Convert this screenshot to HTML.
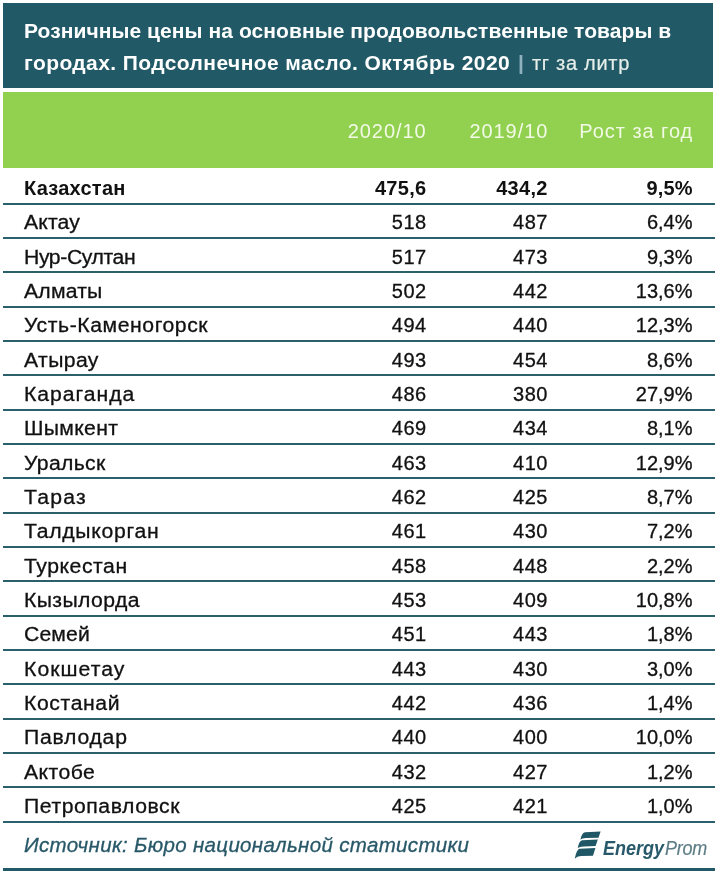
<!DOCTYPE html>
<html lang="ru"><head><meta charset="utf-8"><title>Розничные цены</title>
<style>
html,body{margin:0;padding:0;background:#fff}
body{width:715px;height:871px;position:relative;overflow:hidden;font-family:"Liberation Sans",sans-serif;color:#111}
.abs{position:absolute}
.hdr{left:3px;top:3px;width:710px;height:85px;background:#215967}
.ttl{left:24px;white-space:nowrap;color:#fff;font-weight:bold;font-size:21px;line-height:24px}
.ttl.u{font-weight:normal;font-size:20px;color:#e6eeea;-webkit-text-stroke:0.2px #e6eeea}
.ttl.bar{font-weight:bold;font-size:21px;color:#8fb0bd}
.band{left:3px;top:92px;width:710px;height:76px;background:#92d050}
.ch{color:#f2fae6;font-size:20px;line-height:24px;white-space:nowrap;text-align:right}
.ln{left:3px;width:712px;height:2px;background:#2a5f6c}
.t{font-size:20px;line-height:24px;white-space:nowrap}
.n{text-align:right}
.nm{transform-origin:0 0}
.t{-webkit-text-stroke:0.3px #111}
.t.b{-webkit-text-stroke:0}
.b{font-weight:bold}
.src{left:24px;font-style:italic;color:#285868;-webkit-text-stroke:0.3px #285868;font-size:20.5px;line-height:24px;white-space:nowrap}
.lg{white-space:nowrap;font-style:italic;line-height:22px}
</style></head><body>
<div class="abs hdr"></div>
<div class="abs ttl" style="top:19px;letter-spacing:0.07px">Розничные цены на основные продовольственные товары в</div>
<div class="abs ttl" style="top:51.25px;letter-spacing:0.42px">городах. Подсолнечное масло. Октябрь 2020</div>
<div class="abs ttl bar" style="top:50.5px;left:518px">|</div>
<div class="abs ttl u" style="top:51.4px;left:532px;letter-spacing:0.7px">тг за литр</div>
<div class="abs band"></div>
<div class="abs ch" style="top:118.5px;right:289.30px;letter-spacing:0.95px;margin-right:-0.95px">2020/10</div>
<div class="abs ch" style="top:118.5px;right:167.60px;letter-spacing:0.95px;margin-right:-0.95px">2019/10</div>
<div class="abs ch" style="top:118.5px;right:22.80px;letter-spacing:0.95px;margin-right:-0.95px">Рост за год</div>
<div class="abs t b nm" style="left:24px;top:175.75px;letter-spacing:0.25px;transform:scaleX(1)">Казахстан</div><div class="abs t b n" style="right:288.50px;top:175.75px;letter-spacing:0.3px">475,6</div><div class="abs t b n" style="right:167.30px;top:175.75px;letter-spacing:0.3px">434,2</div><div class="abs t b n" style="right:22.40px;top:175.75px;letter-spacing:0.1px">9,5%</div><div class="abs ln" style="top:203px"></div>
<div class="abs t nm" style="left:24px;top:210.0px;letter-spacing:0.15px;transform:scaleX(1.06)">Актау</div><div class="abs t n" style="right:288.30px;top:210.0px;letter-spacing:0.5px">518</div><div class="abs t n" style="right:167.10px;top:210.0px;letter-spacing:0.5px">487</div><div class="abs t n" style="right:22.50px;top:210.0px;letter-spacing:0px">6,4%</div><div class="abs ln" style="top:237px"></div>
<div class="abs t nm" style="left:24px;top:244.5px;letter-spacing:-0.38px;transform:scaleX(1.06)">Нур-Султан</div><div class="abs t n" style="right:288.30px;top:244.5px;letter-spacing:0.5px">517</div><div class="abs t n" style="right:167.10px;top:244.5px;letter-spacing:0.5px">473</div><div class="abs t n" style="right:22.50px;top:244.5px;letter-spacing:0px">9,3%</div><div class="abs ln" style="top:271px"></div>
<div class="abs t nm" style="left:24px;top:278.75px;letter-spacing:0.18px;transform:scaleX(1.06)">Алматы</div><div class="abs t n" style="right:288.30px;top:278.75px;letter-spacing:0.5px">502</div><div class="abs t n" style="right:167.10px;top:278.75px;letter-spacing:0.5px">442</div><div class="abs t n" style="right:22.50px;top:278.75px;letter-spacing:0px">13,6%</div><div class="abs ln" style="top:306px"></div>
<div class="abs t nm" style="left:24px;top:313.0px;letter-spacing:0.53px;transform:scaleX(1.06)">Усть-Каменогорск</div><div class="abs t n" style="right:288.30px;top:313.0px;letter-spacing:0.5px">494</div><div class="abs t n" style="right:167.10px;top:313.0px;letter-spacing:0.5px">440</div><div class="abs t n" style="right:22.50px;top:313.0px;letter-spacing:0px">12,3%</div><div class="abs ln" style="top:340px"></div>
<div class="abs t nm" style="left:24px;top:347.5px;letter-spacing:0.35px;transform:scaleX(1.06)">Атырау</div><div class="abs t n" style="right:288.30px;top:347.5px;letter-spacing:0.5px">493</div><div class="abs t n" style="right:167.10px;top:347.5px;letter-spacing:0.5px">454</div><div class="abs t n" style="right:22.50px;top:347.5px;letter-spacing:0px">8,6%</div><div class="abs ln" style="top:374px"></div>
<div class="abs t nm" style="left:24px;top:381.75px;letter-spacing:0.9px;transform:scaleX(1.06)">Караганда</div><div class="abs t n" style="right:288.30px;top:381.75px;letter-spacing:0.5px">486</div><div class="abs t n" style="right:167.10px;top:381.75px;letter-spacing:0.5px">380</div><div class="abs t n" style="right:22.50px;top:381.75px;letter-spacing:0px">27,9%</div><div class="abs ln" style="top:409px"></div>
<div class="abs t nm" style="left:24px;top:416.0px;letter-spacing:0.32px;transform:scaleX(1.06)">Шымкент</div><div class="abs t n" style="right:288.30px;top:416.0px;letter-spacing:0.5px">469</div><div class="abs t n" style="right:167.10px;top:416.0px;letter-spacing:0.5px">434</div><div class="abs t n" style="right:22.50px;top:416.0px;letter-spacing:0px">8,1%</div><div class="abs ln" style="top:443px"></div>
<div class="abs t nm" style="left:24px;top:450.5px;letter-spacing:0.3px;transform:scaleX(1.06)">Уральск</div><div class="abs t n" style="right:288.30px;top:450.5px;letter-spacing:0.5px">463</div><div class="abs t n" style="right:167.10px;top:450.5px;letter-spacing:0.5px">410</div><div class="abs t n" style="right:22.50px;top:450.5px;letter-spacing:0px">12,9%</div><div class="abs ln" style="top:477px"></div>
<div class="abs t nm" style="left:24px;top:484.75px;letter-spacing:1.15px;transform:scaleX(1.06)">Тараз</div><div class="abs t n" style="right:288.30px;top:484.75px;letter-spacing:0.5px">462</div><div class="abs t n" style="right:167.10px;top:484.75px;letter-spacing:0.5px">425</div><div class="abs t n" style="right:22.50px;top:484.75px;letter-spacing:0px">8,7%</div><div class="abs ln" style="top:512px"></div>
<div class="abs t nm" style="left:24px;top:519.0px;letter-spacing:0.66px;transform:scaleX(1.06)">Талдыкорган</div><div class="abs t n" style="right:288.30px;top:519.0px;letter-spacing:0.5px">461</div><div class="abs t n" style="right:167.10px;top:519.0px;letter-spacing:0.5px">430</div><div class="abs t n" style="right:22.50px;top:519.0px;letter-spacing:0px">7,2%</div><div class="abs ln" style="top:546px"></div>
<div class="abs t nm" style="left:24px;top:553.5px;letter-spacing:0.51px;transform:scaleX(1.06)">Туркестан</div><div class="abs t n" style="right:288.30px;top:553.5px;letter-spacing:0.5px">458</div><div class="abs t n" style="right:167.10px;top:553.5px;letter-spacing:0.5px">448</div><div class="abs t n" style="right:22.50px;top:553.5px;letter-spacing:0px">2,2%</div><div class="abs ln" style="top:580px"></div>
<div class="abs t nm" style="left:24px;top:587.75px;letter-spacing:0.37px;transform:scaleX(1.06)">Кызылорда</div><div class="abs t n" style="right:288.30px;top:587.75px;letter-spacing:0.5px">453</div><div class="abs t n" style="right:167.10px;top:587.75px;letter-spacing:0.5px">409</div><div class="abs t n" style="right:22.50px;top:587.75px;letter-spacing:0px">10,8%</div><div class="abs ln" style="top:615px"></div>
<div class="abs t nm" style="left:24px;top:622.0px;letter-spacing:0.11px;transform:scaleX(1.06)">Семей</div><div class="abs t n" style="right:288.30px;top:622.0px;letter-spacing:0.5px">451</div><div class="abs t n" style="right:167.10px;top:622.0px;letter-spacing:0.5px">443</div><div class="abs t n" style="right:22.50px;top:622.0px;letter-spacing:0px">1,8%</div><div class="abs ln" style="top:649px"></div>
<div class="abs t nm" style="left:24px;top:656.5px;letter-spacing:0.97px;transform:scaleX(1.06)">Кокшетау</div><div class="abs t n" style="right:288.30px;top:656.5px;letter-spacing:0.5px">443</div><div class="abs t n" style="right:167.10px;top:656.5px;letter-spacing:0.5px">430</div><div class="abs t n" style="right:22.50px;top:656.5px;letter-spacing:0px">3,0%</div><div class="abs ln" style="top:683px"></div>
<div class="abs t nm" style="left:24px;top:690.75px;letter-spacing:0.57px;transform:scaleX(1.06)">Костанай</div><div class="abs t n" style="right:288.30px;top:690.75px;letter-spacing:0.5px">442</div><div class="abs t n" style="right:167.10px;top:690.75px;letter-spacing:0.5px">436</div><div class="abs t n" style="right:22.50px;top:690.75px;letter-spacing:0px">1,4%</div><div class="abs ln" style="top:718px"></div>
<div class="abs t nm" style="left:24px;top:725.0px;letter-spacing:0.71px;transform:scaleX(1.06)">Павлодар</div><div class="abs t n" style="right:288.30px;top:725.0px;letter-spacing:0.5px">440</div><div class="abs t n" style="right:167.10px;top:725.0px;letter-spacing:0.5px">400</div><div class="abs t n" style="right:22.50px;top:725.0px;letter-spacing:0px">10,0%</div><div class="abs ln" style="top:752px"></div>
<div class="abs t nm" style="left:24px;top:759.5px;letter-spacing:0.42px;transform:scaleX(1.06)">Актобе</div><div class="abs t n" style="right:288.30px;top:759.5px;letter-spacing:0.5px">432</div><div class="abs t n" style="right:167.10px;top:759.5px;letter-spacing:0.5px">427</div><div class="abs t n" style="right:22.50px;top:759.5px;letter-spacing:0px">1,2%</div><div class="abs ln" style="top:786px"></div>
<div class="abs t nm" style="left:24px;top:793.75px;letter-spacing:0.51px;transform:scaleX(1.06)">Петропавловск</div><div class="abs t n" style="right:288.30px;top:793.75px;letter-spacing:0.5px">425</div><div class="abs t n" style="right:167.10px;top:793.75px;letter-spacing:0.5px">421</div><div class="abs t n" style="right:22.50px;top:793.75px;letter-spacing:0px">1,0%</div><div class="abs ln" style="top:821px"></div>
<div class="abs src" style="top:833.2px;letter-spacing:0.34px">Источник: Бюро национальной статистики</div>
<svg class="abs" style="left:572px;top:830px" width="30" height="30" viewBox="0 0 30 30">
<g fill="#1f5766">
<path d="M8.4 9.8 C9.2 5.5 10.5 2.8 13 2.2 L28.6 1.6 L26.5 7.8 L14 8 C11.5 8.1 9.7 8.7 8.4 9.8Z"/>
<path d="M5.7 18.2 C6.5 13.7 7.8 10.8 10.3 10.2 L25.8 9.5 L23.6 16.1 L11.3 16.4 C8.8 16.5 7 17.1 5.7 18.2Z"/>
<path d="M2.8 28.8 C4 23 5.3 19.4 7.8 18.8 L23.4 18.1 L21 25.8 L9.5 26 C6.5 26.2 4.2 27.2 2.8 28.8Z"/>
</g></svg>
<div class="abs lg" style="left:602.5px;top:835.6px;font-size:20px;line-height:24px;transform:scaleX(0.9);transform-origin:0 0"><span style="font-weight:bold;color:#27596a">Energy</span><span style="color:#5d7d86;-webkit-text-stroke:0.2px #5d7d86;letter-spacing:-0.3px;margin-left:1px">Prom</span></div>
<div class="abs" style="left:3px;top:868px;width:712px;height:3px;background:#215967"></div>
</body></html>
